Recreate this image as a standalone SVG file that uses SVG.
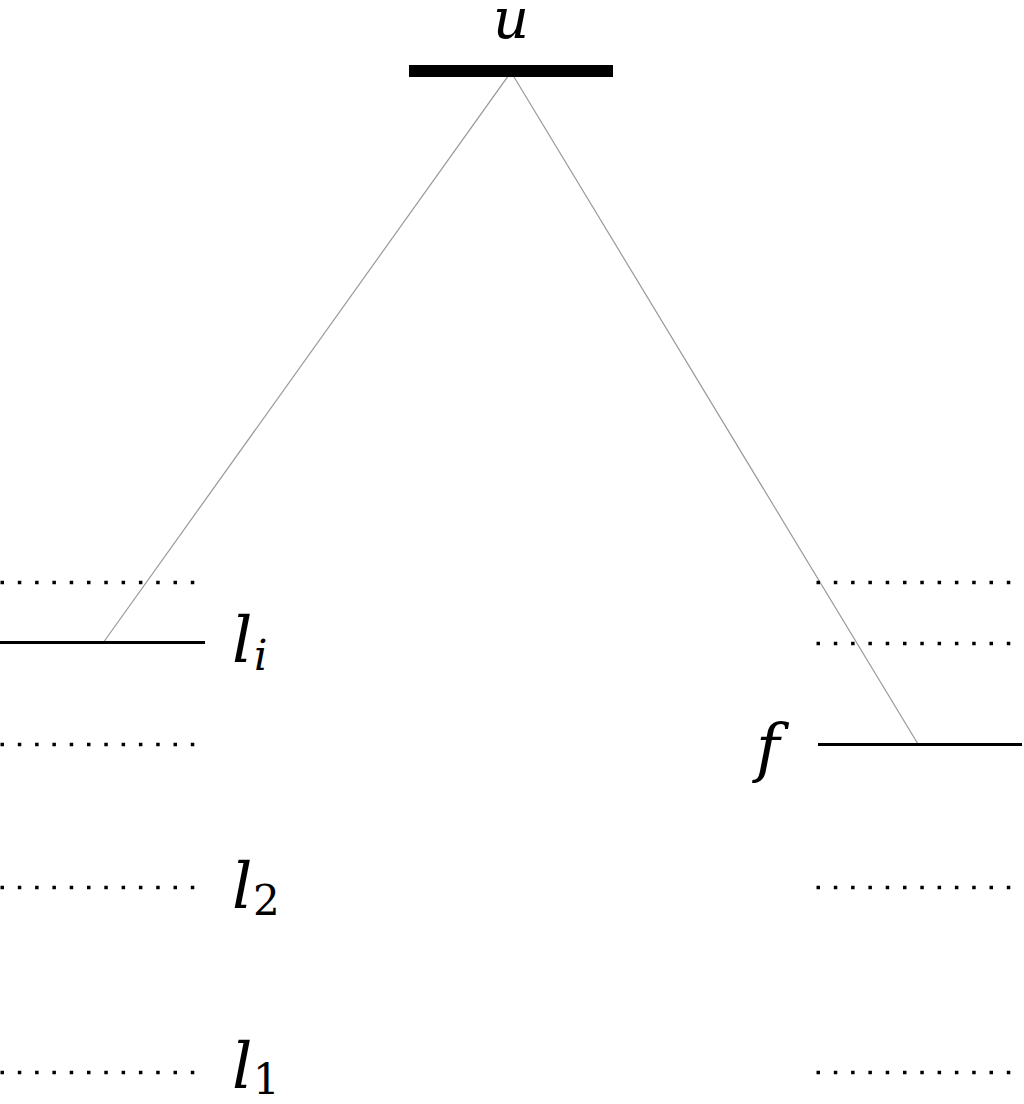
<svg xmlns="http://www.w3.org/2000/svg" width="1024" height="1104" viewBox="0 0 1024 1104">
<style>
.dot{stroke:#000;stroke-width:3.5;stroke-dasharray:3.5 13.8;fill:none}
.lvl{stroke:#000;stroke-width:3;fill:none}
.conn{stroke:#999;stroke-width:1.2;fill:none}
</style>
<rect width="1024" height="1104" fill="#fff"/>
<g id="connectors">
<line class="conn" x1="511" y1="72" x2="103" y2="643"/>
<line class="conn" x1="511" y1="72" x2="918" y2="744"/>
</g>
<g id="u">
<rect x="409" y="65" width="204" height="12" fill="#000"/>
<text x="511" y="38" text-anchor="middle" font-family="DejaVu Serif, Liberation Serif, serif" font-style="italic" font-size="56">u</text>
</g>
<g id="left-levels">
<line class="dot" x1="0.5" y1="582.5" x2="195" y2="582.5"/>
<line class="dot" x1="0.5" y1="744.5" x2="195" y2="744.5"/>
</g>
<g id="li">
<line class="lvl" x1="0" y1="642.5" x2="205" y2="642.5"/>
<text x="232" y="662" font-family="DejaVu Serif, Liberation Serif, serif" font-style="italic" font-size="64">l</text><text x="254" y="670" font-family="DejaVu Serif, Liberation Serif, serif" font-style="italic" font-size="42">i</text>
</g>
<g id="l2">
<line class="dot" x1="0.5" y1="887.5" x2="195" y2="887.5"/>
<text x="232" y="908" font-family="DejaVu Serif, Liberation Serif, serif" font-style="italic" font-size="64">l</text><text x="253" y="915" font-family="DejaVu Serif, Liberation Serif, serif" font-size="42">2</text>
</g>
<g id="l1">
<line class="dot" x1="0.5" y1="1072.5" x2="195" y2="1072.5"/>
<text x="232" y="1088" font-family="DejaVu Serif, Liberation Serif, serif" font-style="italic" font-size="64">l</text><text x="253" y="1094" font-family="DejaVu Serif, Liberation Serif, serif" font-size="42">1</text>
</g>
<g id="right-levels">
<line class="dot" x1="816.5" y1="582.5" x2="1011" y2="582.5"/>
<line class="dot" x1="816.5" y1="643.5" x2="1011" y2="643.5"/>
<line class="dot" x1="816.5" y1="887.5" x2="1011" y2="887.5"/>
<line class="dot" x1="816.5" y1="1072.5" x2="1011" y2="1072.5"/>
</g>
<g id="f">
<line class="lvl" x1="818" y1="744.5" x2="1022" y2="744.5"/>
<text x="756" y="770" font-family="DejaVu Serif, Liberation Serif, serif" font-style="italic" font-size="64">f</text>
</g>
</svg>
